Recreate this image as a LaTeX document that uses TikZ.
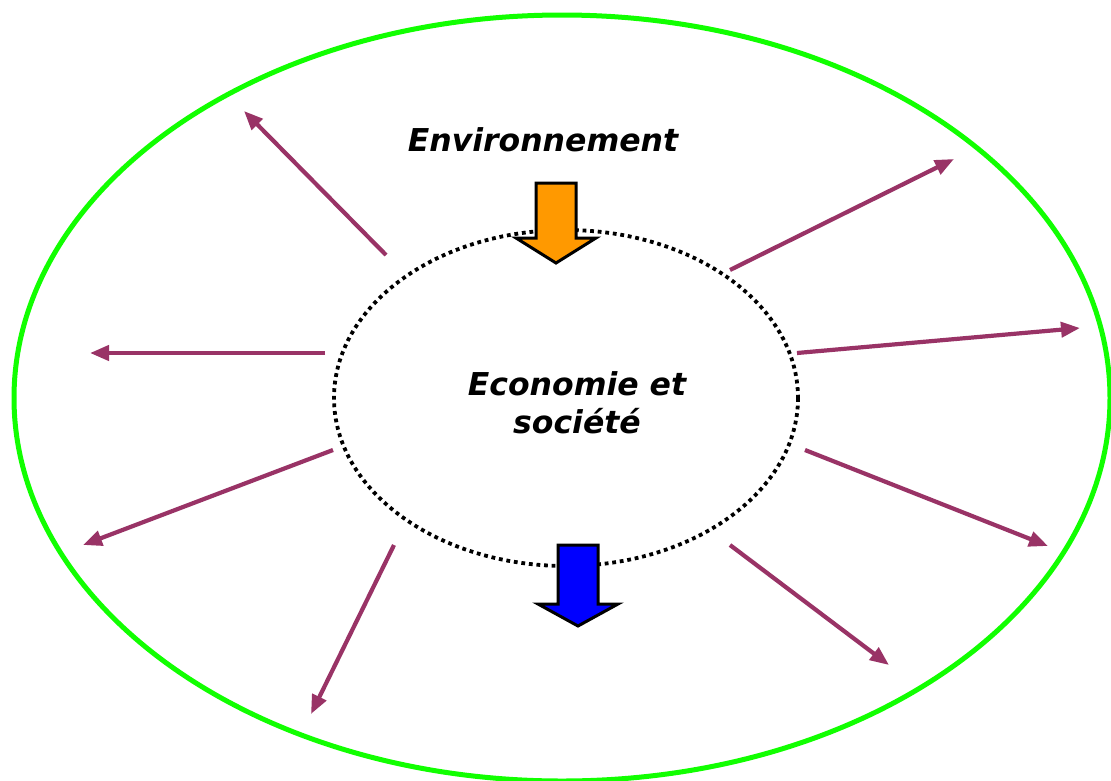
\documentclass[tikz,border=0pt]{standalone}
\usepackage{fontspec}
\setmainfont{DejaVu Sans}
\usetikzlibrary{arrows.meta}
\definecolor{ray}{HTML}{993366}
\definecolor{outer}{HTML}{11FF00}
\definecolor{orangeA}{HTML}{FF9900}
\tikzset{
  ray/.style={draw=ray, line width=4.2pt, -{Triangle[length=19pt,width=15pt]}},
  lbl/.style={font=\fontsize{31.5}{38}\selectfont\bfseries\itshape, align=center},
  blockarrow/.style={draw=black, line width=3pt, line join=miter},
}
\begin{document}
\begin{tikzpicture}[x=1pt,y=-1pt]
\useasboundingbox (0,0) rectangle (1111,780);
\fill[white] (0,0) rectangle (1111,780);
% outer ellipse
\draw[outer, line width=5pt] (562,398) ellipse [x radius=548, y radius=383];
% inner dotted ellipse
\draw[black, line width=3.8pt, dash pattern=on 3.8pt off 3.8pt] (566,398) ellipse [x radius=232, y radius=168];
% labels
\node[lbl] (env) at (543,140) {Environnement};
\node[lbl] (eco) at (577,403) {Economie et\\société};
% ray anchors
\coordinate (s1) at (386,255); \coordinate (e1) at (244,111);
\coordinate (s2) at (325,353); \coordinate (e2) at (90,353);
\coordinate (s3) at (333,450); \coordinate (e3) at (83,545);
\coordinate (s4) at (394,545); \coordinate (e4) at (311,714);
\coordinate (s5) at (730,270); \coordinate (e5) at (954,159);
\coordinate (s6) at (797,353); \coordinate (e6) at (1080,328);
\coordinate (s7) at (805,450); \coordinate (e7) at (1048,546);
\coordinate (s8) at (730,545); \coordinate (e8) at (889,665);
\foreach \i in {1,...,8} { \draw[ray] (s\i) -- (e\i); }
% orange block arrow
\draw[blockarrow, fill=orangeA] (536,183) -- (576,183) -- (576,238) -- (596,238) -- (556,263) -- (516,238) -- (536,238) -- cycle;
% blue block arrow
\draw[blockarrow, fill=blue] (558,545) -- (598,545) -- (598,604) -- (618,604) -- (578,626) -- (538,604) -- (558,604) -- cycle;
\end{tikzpicture}
\end{document}
